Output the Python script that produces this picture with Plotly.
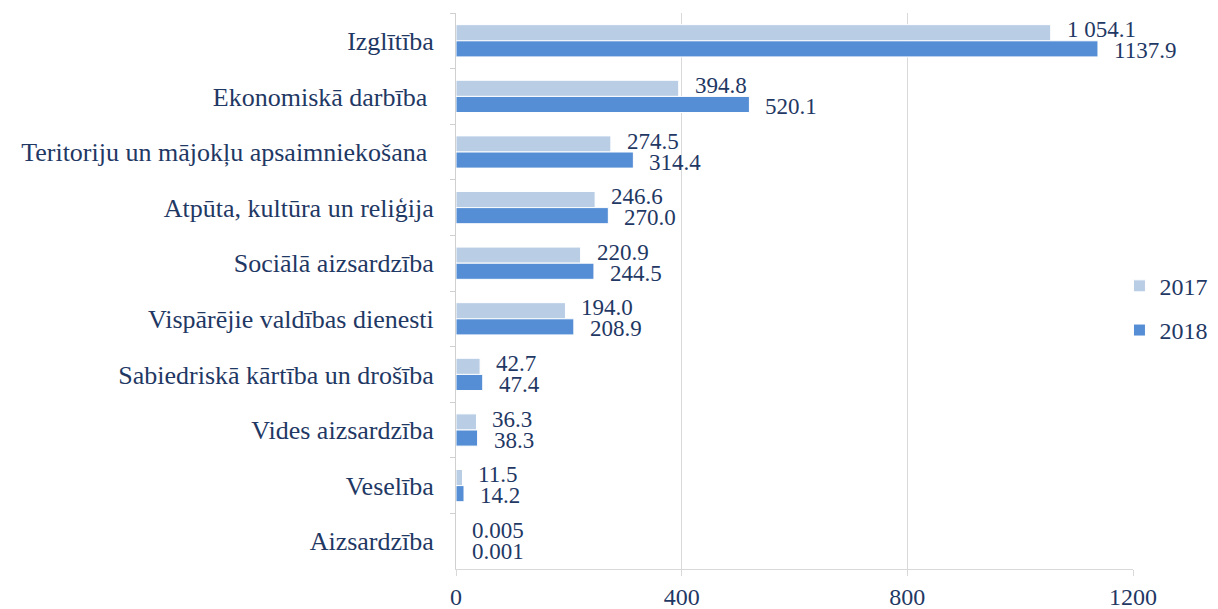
import plotly.graph_objects as go

categories = ["Izglītība", "Ekonomiskā darbība ", "Teritoriju un mājokļu apsaimniekošana ",
              "Atpūta, kultūra un reliģija", "Sociālā aizsardzība", "Vispārējie valdības dienesti",
              "Sabiedriskā kārtība un drošība", "Vides aizsardzība", "Veselība", "Aizsardzība"]
v2017 = [1054.1, 394.8, 274.5, 246.6, 220.9, 194.0, 42.7, 36.3, 11.5, 0.005]
v2018 = [1137.9, 520.1, 314.4, 270.0, 244.5, 208.9, 47.4, 38.3, 14.2, 0.001]
t2017 = ["1 054.1", "394.8", "274.5", "246.6", "220.9", "194.0", "42.7", "36.3", "11.5", "0.005"]
t2018 = ["1137.9", "520.1", "314.4", "270.0", "244.5", "208.9", "47.4", "38.3", "14.2", "0.001"]
xticks = [0, 400, 800, 1200]

font_family = "Liberation Serif"
txt_color = "#1F3864"
c2017 = "#B9CDE5"
c2018 = "#558ED5"

fig = go.Figure()
fig.add_trace(go.Bar(y=categories, x=v2017, name="2017", orientation="h", legendgroup="a",
                     marker=dict(color=c2017, line=dict(color="white", width=1))))
fig.add_trace(go.Bar(y=categories, x=v2018, name="2018", orientation="h", legendgroup="b",
                     marker=dict(color=c2018, line=dict(color="white", width=1))))

# data labels, placed at bar ends through the axes
for vals, texts, ys in ((v2017, t2017, 11), (v2018, t2018, -10)):
    for c, v, t in zip(categories, vals, texts):
        fig.add_annotation(x=v, y=c, text=t, showarrow=False, xanchor="left", yanchor="middle",
                           xshift=14, yshift=ys,
                           font=dict(family=font_family, size=23, color=txt_color))

# page body has an 8px margin, so the figure is 8px smaller than the window
fig.update_layout(
    width=1210, height=601,
    paper_bgcolor="white", plot_bgcolor="white",
    margin=dict(l=448, r=85, t=5, b=40, autoexpand=False),
    barmode="group", bargap=0.42, bargroupgap=0,
    font=dict(family=font_family, size=23, color=txt_color),
    legend=dict(x=0.98, y=0.469, xanchor="left", yanchor="middle",
                font=dict(size=24, color=txt_color), traceorder="grouped",
                itemwidth=30, tracegroupgap=10),
    showlegend=True,
)
fig.update_xaxes(range=[0, 1200], tickvals=xticks, ticktext=[str(t) for t in xticks],
                 showgrid=True, gridcolor="#D9D9D9", gridwidth=1,
                 showline=True, linecolor="#D9D9D9", linewidth=1,
                 ticks="outside", ticklen=6, tickcolor="#D9D9D9",
                 tickfont=dict(size=24, color=txt_color), zeroline=False)
fig.update_yaxes(autorange="reversed", showline=True, linecolor="#D0D0D0", linewidth=1,
                 ticks="outside", tickson="boundaries", ticklen=5, tickcolor="#D0D0D0",
                 ticklabelstandoff=16,
                 tickfont=dict(size=26, color=txt_color), showgrid=False)

fig.write_html("out.html")
